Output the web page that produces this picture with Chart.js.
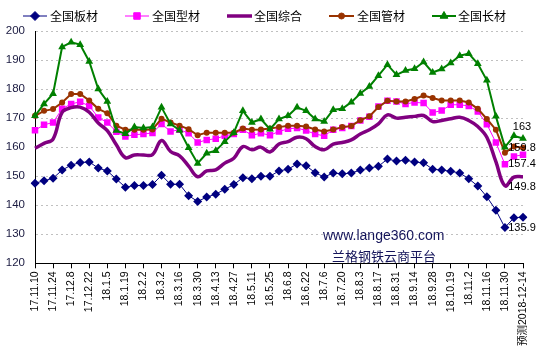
<!DOCTYPE html>
<html>
<head>
<meta charset="utf-8">
<script src="https://cdn.jsdelivr.net/npm/chart.js@4.4.0/dist/chart.umd.min.js"></script>
<style>
  html, body { margin: 0; padding: 0; background: #fff; }
  #wrap { width: 543px; height: 361px; }
</style>
</head>
<body>
<div id="wrap"><canvas id="chart" width="543" height="361"></canvas></div>
<script>
const weeks = ['17.11.10','17.11.17','17.11.24','17.12.1','17.12.8','17.12.15','17.12.22','17.12.29',
  '18.1.5','18.1.12','18.1.19','18.1.26','18.2.2','18.2.9','18.3.2','18.3.9','18.3.16','18.3.23','18.3.30',
  '18.4.6','18.4.13','18.4.20','18.4.27','18.5.4','18.5.11','18.5.18','18.5.25','18.6.1','18.6.8','18.6.15',
  '18.6.22','18.6.29','18.7.6','18.7.13','18.7.20','18.7.27','18.8.3','18.8.10','18.8.17','18.8.24','18.8.31',
  '18.9.7','18.9.14','18.9.21','18.9.28','18.10.12','18.10.19','18.10.26','18.11.2','18.11.9','18.11.16',
  '18.11.23','18.11.30','18.12.7','预测2018-12-14'];

const plate = [147.6,148.4,149.3,152.1,153.8,154.7,154.9,152.8,151.8,149.0,146.2,146.8,146.8,147.1,150.3,147.2,147.2,
  143.3,141.3,142.8,143.8,145.5,147.1,149.5,149.1,150.0,150.0,151.8,152.4,154.2,153.6,151.2,149.7,151.1,150.8,151.1,
  152.1,152.8,153.4,155.9,155.2,155.5,154.9,154.6,152.4,152.1,151.7,151.1,149.1,146.6,142.9,138.3,132.3,135.7,135.9];

const section = [165.8,167.7,168.5,173.2,174.9,175.6,174.2,170.2,168.5,165.3,163.7,164.3,164.5,164.9,168.0,165.4,166.0,
  164.8,161.6,162.5,162.9,163.9,164.5,166.0,164.1,164.8,164.1,165.4,166.3,166.6,165.7,164.5,163.9,166.0,166.6,167.3,
  169.2,170.5,174.0,176.0,175.7,174.9,175.4,175.2,171.9,172.6,174.6,174.6,174.2,172.3,167.9,161.6,154.1,156.8,157.4];

const composite = [159.6,161.3,162.8,172.0,173.6,173.8,172.0,168.3,165.7,160.8,156.4,157.3,157.3,157.4,162.3,158.5,157.0,
  153.5,149.8,151.8,152.2,154.5,156.2,160.2,159.1,160.0,158.3,161.1,161.9,163.4,162.9,160.2,159.1,161.0,161.6,162.5,
  164.5,166.0,168.0,171.1,170.0,170.3,170.6,170.9,168.8,169.2,169.8,170.3,169.2,167.1,163.4,155.0,146.7,149.7,149.8];

const pipe = [170.8,172.5,173.1,175.4,178.3,178.3,176.1,173.2,171.7,167.4,166.0,166.0,166.0,166.1,169.8,168.5,167.4,
  166.2,164.1,165.0,165.0,165.0,165.0,166.4,166.0,166.1,166.4,166.9,167.4,167.4,167.1,166.1,165.4,166.1,166.9,167.3,
  169.3,170.6,173.8,176.0,175.7,175.7,176.6,177.8,176.9,176.1,176.1,176.1,175.4,173.2,169.7,166.0,158.1,160.2,159.8];

const longSteel = [170.8,174.9,178.4,194.5,196.1,195.3,189.5,180.0,175.7,165.7,164.6,166.9,166.6,166.9,173.7,168.0,165.8,
  159.8,154.4,157.9,158.8,161.9,165.0,172.5,168.5,169.7,166.2,169.7,170.8,173.7,172.5,169.7,168.8,172.9,173.2,175.5,
  178.5,180.9,184.6,188.4,184.9,186.4,187.0,189.3,185.7,186.9,189.0,191.5,192.2,188.7,183.0,170.6,160.0,163.9,163];

const seriesNames = ['全国板材', '全国型材', '全国综合', '全国管材', '全国长材'];
const yTicks = { min: 120, max: 200, step: 10 };

const FONT = '"Liberation Sans", "Noto Sans CJK SC", sans-serif';
const CJK = '"Noto Sans CJK SC", "Liberation Sans", sans-serif';

// legend geometry + last-point label offsets (style only)
const legendPos = [
  { x1: 23, x2: 47, tx: 50 },
  { x1: 125, x2: 149, tx: 152 },
  { x1: 227, x2: 252, tx: 254 },
  { x1: 329, x2: 354, tx: 357 },
  { x1: 432, x2: 456, tx: 458 }
];
const labelDy = [11, 9, 10, 0, -11];

function drawMarker(ctx, style, x, y, r, color) {
  if (Chart.helpers && Chart.helpers.drawPoint) {
    ctx.save();
    ctx.fillStyle = color; ctx.strokeStyle = color; ctx.lineWidth = 1;
    Chart.helpers.drawPoint(ctx, { pointStyle: style, radius: r, rotation: 0, borderWidth: 1 }, x, y);
    ctx.restore();
  }
}

const legendPlugin = {
  id: 'excelLegend',
  afterDraw(chart) {
    const ctx = chart.ctx;
    const y = 16;
    chart.data.datasets.forEach((ds, i) => {
      const p = legendPos[i];
      ctx.save();
      ctx.strokeStyle = ds.borderColor;
      ctx.lineWidth = ds.borderWidth;
      ctx.beginPath();
      ctx.moveTo(p.x1, y);
      ctx.lineTo(p.x2, y);
      ctx.stroke();
      ctx.restore();
      if (ds.pointRadius > 0) {
        drawMarker(ctx, ds.pointStyle, (p.x1 + p.x2) / 2, y, ds.pointRadius, ds.pointBackgroundColor);
      }
      ctx.save();
      ctx.fillStyle = '#000';
      ctx.font = '12px ' + CJK;
      ctx.textBaseline = 'middle';
      ctx.textAlign = 'left';
      ctx.fillText(seriesNames[i], p.tx, y);
      ctx.restore();
    });
  }
};

const endLabelPlugin = {
  id: 'endLabels',
  afterDatasetsDraw(chart) {
    const ctx = chart.ctx;
    chart.data.datasets.forEach((ds, i) => {
      const meta = chart.getDatasetMeta(i);
      const pt = meta.data[meta.data.length - 1];
      const v = ds.data[ds.data.length - 1];
      ctx.save();
      ctx.fillStyle = '#000';
      ctx.font = '11px ' + FONT;
      ctx.textAlign = 'center';
      ctx.textBaseline = 'middle';
      ctx.fillText(String(v), pt.x - 1, pt.y + labelDy[i]);
      ctx.restore();
    });
  }
};

const watermarkPlugin = {
  id: 'watermark',
  afterDraw(chart) {
    const ctx = chart.ctx;
    ctx.save();
    ctx.fillStyle = '#14145a';
    ctx.textBaseline = 'middle';
    ctx.textAlign = 'left';
    ctx.font = '14px ' + FONT;
    ctx.fillText('www.lange360.com', 323, 236);
    ctx.font = '13px ' + CJK;
    ctx.fillText('兰格钢铁云商平台', 332, 256);
    ctx.restore();
  }
};

new Chart(document.getElementById('chart').getContext('2d'), {
  type: 'line',
  data: {
    labels: weeks,
    datasets: [
      { label: seriesNames[0], data: plate, borderColor: '#000080', borderWidth: 1,
        pointStyle: 'rectRot', pointRadius: 4.5, pointBackgroundColor: '#000080', pointBorderColor: '#000080',
        pointBorderWidth: 0, tension: 0, order: 5 },
      { label: seriesNames[1], data: section, borderColor: '#ff00ff', borderWidth: 1,
        pointStyle: 'rect', pointRadius: 4.6, pointBackgroundColor: '#ff00ff', pointBorderColor: '#ff00ff',
        pointBorderWidth: 0, tension: 0, order: 4 },
      { label: seriesNames[2], data: composite, borderColor: '#800080', borderWidth: 3.5,
        pointRadius: 0, pointBackgroundColor: '#800080', tension: 0.4, order: 3 },
      { label: seriesNames[3], data: pipe, borderColor: '#993300', borderWidth: 2,
        pointStyle: 'circle', pointRadius: 3, pointBackgroundColor: '#993300', pointBorderColor: '#993300',
        pointBorderWidth: 0, tension: 0, order: 2 },
      { label: seriesNames[4], data: longSteel, borderColor: '#008000', borderWidth: 2,
        pointStyle: 'triangle', pointRadius: 4.5, pointBackgroundColor: '#008000', pointBorderColor: '#008000',
        pointBorderWidth: 0, tension: 0, order: 1 }
    ]
  },
  options: {
    responsive: false,
    animation: false,
    layout: { padding: { top: 31, right: 20, left: 0, bottom: 0 } },
    plugins: {
      legend: { display: false },
      tooltip: { enabled: false }
    },
    scales: {
      x: {
        offset: false,
        grid: {
          drawOnChartArea: false,
          drawTicks: true,
          tickLength: 5,
          color: (c) => (c.index % 2 === 0 ? '#000' : 'rgba(0,0,0,0)')
        },
        border: { color: '#000', width: 1 },
        ticks: {
          autoSkip: false,
          minRotation: 90,
          maxRotation: 90,
          padding: 3,
          color: '#000',
          font: { family: FONT, size: 10.5 },
          callback: (v, i) => (i % 2 === 0 ? weeks[i] : '')
        },
        afterFit: (s) => { s.height = 97.7; }
      },
      y: {
        min: yTicks.min,
        max: yTicks.max,
        ticks: {
          stepSize: yTicks.step,
          padding: 10,
          color: '#1a1a40',
          font: { family: FONT, size: 11.5 }
        },
        grid: {
          drawTicks: false,
          color: (c) => (c.tick && c.tick.value === yTicks.min ? 'rgba(0,0,0,0)' : '#c0c0c0')
        },
        border: { color: '#000', width: 1, dash: [2, 3] },
        afterFit: (s) => { s.width = 35; }
      }
    }
  },
  plugins: [legendPlugin, endLabelPlugin, watermarkPlugin]
});
</script>
</body>
</html>
